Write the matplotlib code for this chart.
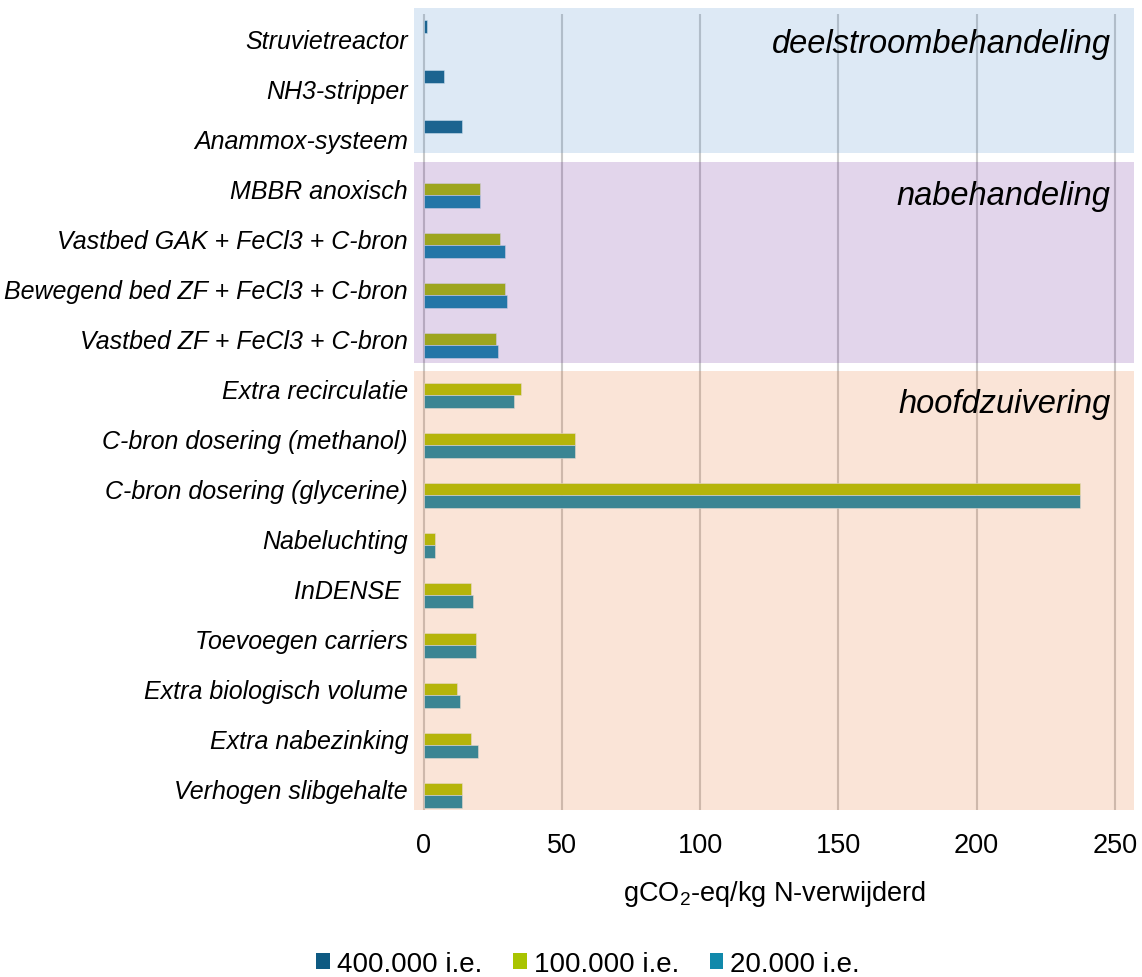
import numpy as np
import matplotlib
matplotlib.use("Agg")
import matplotlib.pyplot as plt
from matplotlib.patches import Patch

plt.rcParams['font.family'] = ['Liberation Sans', 'DejaVu Sans']
plt.rcParams['mathtext.fontset'] = 'custom'
plt.rcParams['mathtext.rm'] = 'Liberation Sans'

maatregelen = ['Struvietreactor', 'NH3-stripper', 'Anammox-systeem',
               'MBBR anoxisch', 'Vastbed GAK + FeCl3 + C-bron',
               'Bewegend bed ZF + FeCl3 + C-bron', 'Vastbed ZF + FeCl3 + C-bron',
               'Extra recirculatie', 'C-bron dosering (methanol)',
               'C-bron dosering (glycerine)', 'Nabeluchting', 'InDENSE ',
               'Toevoegen carriers', 'Extra biologisch volume',
               'Extra nabezinking', 'Verhogen slibgehalte']
nan = np.nan
ie_400k = [1.2, 7.3, 13.9, nan, nan, nan, nan, nan, nan, nan, nan, nan, nan, nan, nan, nan]
ie_100k = [nan, nan, nan, 20.4, 27.8, 29.4, 26.2, 35.1, 54.8, 237.3, 4.0, 17.2, 18.9, 12.2, 17.2, 13.9]
ie_20k = [nan, nan, nan, 20.4, 29.4, 30.2, 26.9, 32.7, 54.8, 237.3, 4.0, 18.0, 18.9, 13.1, 19.6, 13.9]
reeksen = ['400.000 i.e.', '100.000 i.e.', '20.000 i.e.']
kleuren = ['#0E5A82', '#A9C400', '#1189AB']

groepen = ['deelstroombehandeling', 'nabehandeling', 'hoofdzuivering']
groep_kleur = ['#5591CD', '#6E2D9B', '#E67837']

fig = plt.figure(figsize=(11.42, 9.78), dpi=100)
ax = fig.add_axes([0.3628, 0.1708, 0.6302, 0.8197])

y = np.arange(len(maatregelen))
h = 0.25
for k, (vals, kl) in enumerate(zip([ie_400k, ie_100k, ie_20k], kleuren)):
    ax.barh(y + (k - 1) * h, vals, height=h, color=kl, edgecolor='#e8f0f4',
            linewidth=0.4, zorder=2)

ax.set_xlim(-3.33, 256.9)
ax.set_ylim(15.42, -0.614)

# gridlines
ax.vlines(np.arange(0, 251, 50), -0.49, 15.42, color='#c9c9c9', lw=1.5, zorder=1)

# transparant gekleurde vlakken over de balken
spans = [(-0.614, 2.286), (2.466, 6.48), (6.646, 15.42)]
tekst_y = [0.1, 3.14, 7.3]
for (a, b), kl, naam, ty in zip(spans, groep_kleur, groepen, tekst_y):
    ax.axhspan(a, b, color=kl, alpha=0.2, lw=0, zorder=3)
    ax.text(248.4, ty, naam, ha='right', va='center', fontsize=23.5,
            style='italic', zorder=4)

ax.set_yticks(y)
ax.set_yticklabels(maatregelen, fontsize=18, style='italic')
ax.set_xticks(np.arange(0, 251, 50))
ax.tick_params(axis='y', length=0, pad=4.5)
ax.tick_params(axis='x', length=0, pad=16, labelsize=19.5)
for s in ax.spines.values():
    s.set_visible(False)
ax.set_xlabel('gCO$_{2}$-eq/kg N-verwijderd', fontsize=19.5, labelpad=14)

handles = [Patch(facecolor=c, edgecolor='none', label=l) for c, l in zip(kleuren, reeksen)]
fig.legend(handles=handles, loc='center', bbox_to_anchor=(0.515, 1 - 965 / 978),
           ncol=3, frameon=False, fontsize=20, handlelength=0.5, handleheight=0.5,
           handletextpad=0.25, columnspacing=1.1)

fig.savefig('out.png', dpi=100)
